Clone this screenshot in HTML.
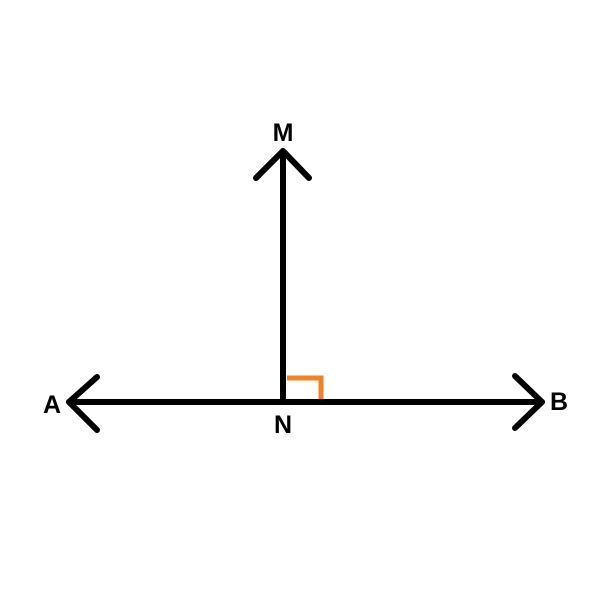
<!DOCTYPE html>
<html><head><meta charset="utf-8"><style>
html,body{margin:0;padding:0;background:#fff;}
svg{display:block;}
text{font-family:"Liberation Sans",sans-serif;font-weight:bold;font-size:25px;fill:#000;}
</style></head><body>
<svg width="600" height="600" viewBox="0 0 600 600">
<g stroke="#000" stroke-width="6" fill="none" stroke-linecap="round" stroke-linejoin="round">
  <line x1="69" y1="402" x2="542" y2="402"/>
  <polyline points="97,377 69,402 97,430"/>
  <polyline points="515,376 542,402 515,428"/>
  <line x1="283" y1="151" x2="283" y2="402"/>
  <polyline points="256,178 283,151 309,178"/>
</g>
<polyline points="287,378 321,378 321,399" stroke="#f5821f" stroke-width="5" fill="none"/>
<text x="283" y="141" text-anchor="middle">M</text>
<text x="52" y="413" text-anchor="middle">A</text>
<text x="559" y="410" text-anchor="middle">B</text>
<text x="283" y="433" text-anchor="middle">N</text>
</svg>
</body></html>
